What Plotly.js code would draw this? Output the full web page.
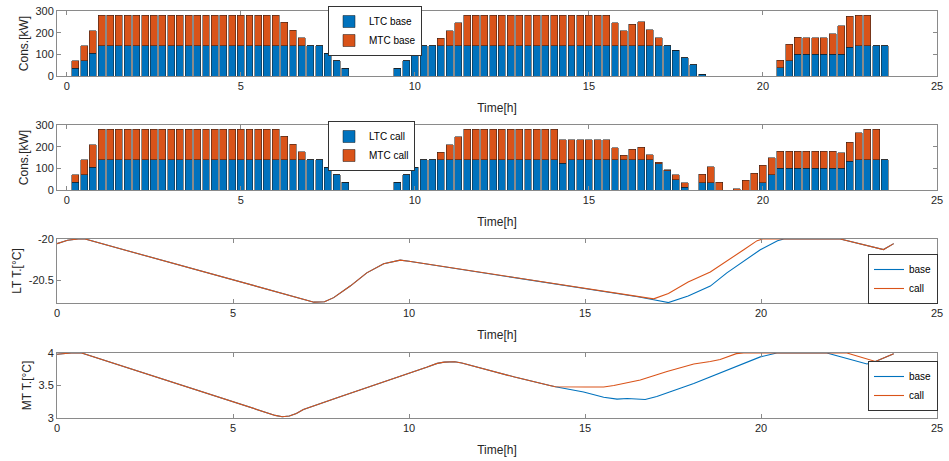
<!DOCTYPE html>
<html>
<head>
<meta charset="utf-8">
<script src="https://cdn.plot.ly/plotly-3.0.1.min.js"></script>
<style>html,body{margin:0;padding:0;background:#fff;}#chart{width:949px;height:461px;}</style>
</head>
<body>
<div id="chart"></div>
<script>
// ---- bar data (quarter-hour steps) ----
const times = [0.25,0.5,0.75,1,1.25,1.5,1.75,2,2.25,2.5,2.75,3,3.25,3.5,3.75,4,4.25,4.5,4.75,5,
  5.25,5.5,5.75,6,6.25,6.5,6.75,7,7.25,7.5,7.75,8,8.25,8.5,8.75,9,9.25,9.5,9.75,10,
  10.25,10.5,10.75,11,11.25,11.5,11.75,12,12.25,12.5,12.75,13,13.25,13.5,13.75,14,14.25,14.5,14.75,15,
  15.25,15.5,15.75,16,16.25,16.5,16.75,17,17.25,17.5,17.75,18,18.25,18.5,18.75,19,19.25,19.5,19.75,20,
  20.25,20.5,20.75,21,21.25,21.5,21.75,22,22.25,22.5,22.75,23,23.25,23.5];

const baseLTC = [35,70,105,140,140,140,140,140,140,140,140,140,140,140,140,140,140,140,140,140,
  140,140,140,140,140,140,140,140,140,105,70,35,0,0,0,0,0,35,70,105,
  140,140,140,140,140,140,140,140,140,140,140,140,140,140,140,140,140,140,140,140,
  140,140,140,140,140,140,140,140,140,119,85,52,9,0,0,0,0,0,0,0,
  0,37,71,100,100,100,100,100,100,132,140,140,140,140];
const baseMTC = [35,70,105,140,140,140,140,140,140,140,140,140,140,140,140,140,140,140,140,140,
  140,140,140,140,108,72,37,0,0,0,0,0,0,0,0,0,0,0,0,0,
  0,0,35,70,105,140,140,140,140,140,140,140,140,140,140,140,140,140,140,140,
  140,140,106,70,99,111,73,37,0,0,0,0,0,0,0,0,0,0,0,0,
  0,35,75,80,77,77,77,95,131,144,140,140,0,0];
const callLTC = [35,70,105,140,140,140,140,140,140,140,140,140,140,140,140,140,140,140,140,140,
  140,140,140,140,140,140,140,140,140,105,70,35,0,0,0,0,0,35,70,105,
  140,140,140,140,140,140,140,140,140,140,140,140,140,140,140,140,123,140,140,140,
  140,140,140,140,140,140,140,121,89,47,12,0,34,34,0,0,0,0,0,34,
  71,101,100,100,100,100,100,100,100,132,140,140,140,140];
const callMTC = [35,70,105,140,140,140,140,140,140,140,140,140,140,140,140,140,140,140,140,140,
  140,140,140,140,108,72,37,0,0,0,0,0,0,0,0,0,0,0,0,0,
  0,0,35,70,105,140,140,140,140,140,140,140,140,140,140,140,108,91,91,91,
  91,91,55,20,49,57,23,7,4,23,22,0,39,73,36,0,6,44,78,80,
  77,78,78,78,78,78,78,78,73,89,124,140,140,0];

// ---- LT temperature ----
const ltBaseT = [0,0.3,0.6,0.8,2,3,4,5,6,6.8,7.3,7.6,7.86,8.33,8.8,9.28,9.75,10,11,12,13,14,15,16,16.5,16.95,17.37,17.93,18.56,19.03,19.51,19.98,20.47,20.65,22.25,23.48,23.77];
const ltBase  = [-20.056,-20.015,-20,-20,-20.142,-20.26,-20.38,-20.5,-20.62,-20.71,-20.765,-20.76,-20.71,-20.57,-20.41,-20.3,-20.256,-20.27,-20.335,-20.4,-20.465,-20.53,-20.6,-20.665,-20.7,-20.735,-20.77,-20.69,-20.57,-20.41,-20.27,-20.13,-20.02,-20,-20,-20.128,-20.056];
const ltCallT = [0,0.3,0.6,0.8,2,3,4,5,6,6.8,7.3,7.6,7.86,8.33,8.8,9.28,9.75,10,11,12,13,14,15,16,16.5,16.95,17.37,17.93,18.56,19.03,19.51,19.89,20.05,22.25,23.48,23.77];
const ltCall  = [-20.056,-20.015,-20,-20,-20.142,-20.26,-20.38,-20.5,-20.62,-20.71,-20.765,-20.76,-20.71,-20.57,-20.41,-20.3,-20.256,-20.27,-20.335,-20.4,-20.465,-20.53,-20.6,-20.665,-20.7,-20.725,-20.66,-20.52,-20.4,-20.27,-20.13,-20.02,-20,-20,-20.128,-20.056];

// ---- MT temperature ----
const mtBaseT = [0,0.4,0.7,1,2,3,4,5,6,6.2,6.4,6.6,6.8,7,8,9,10,10.5,10.8,11,11.3,11.5,12,13,14,14.16,14.96,15.53,15.91,16.2,16.71,17.04,18.09,19.03,19.98,20.45,21.87,23.01,23.25,23.77];
const mtBase  = [3.98,4,4,3.948,3.773,3.599,3.424,3.25,3.075,3.04,3.02,3.03,3.07,3.13,3.32,3.51,3.69,3.78,3.84,3.86,3.865,3.845,3.77,3.63,3.5,3.48,3.4,3.32,3.29,3.3,3.285,3.33,3.53,3.74,3.94,4,4,3.83,3.87,3.99];
const mtCallT = [0,0.4,0.7,1,2,3,4,5,6,6.2,6.4,6.6,6.8,7,8,9,10,10.5,10.8,11,11.3,11.5,12,13,14,14.16,15,15.53,15.82,16.2,16.57,17.33,18.09,18.56,18.84,19.3,19.51,22.44,23.25,23.77];
const mtCall  = [3.98,4,4,3.948,3.773,3.599,3.424,3.25,3.075,3.04,3.02,3.03,3.07,3.13,3.32,3.51,3.69,3.78,3.84,3.86,3.865,3.845,3.77,3.63,3.5,3.48,3.478,3.478,3.5,3.54,3.585,3.715,3.83,3.87,3.9,3.99,4,4,3.87,3.99];

// ---- labels / ticks ----
const xTicks = [0,5,10,15,20,25];
const consTicks = [0,100,200,300];
const ltTicks = [-20.5,-20];
const ltTickText = ['-20.5','-20'];
const mtTicks = [3,3.5,4];
const mtTickText = ['3','3.5','4'];
const xTitle = 'Time[h]';

const BLUE = '#0072BD', ORANGE = '#D95319';
const W = 949, H = 461;
const xDom = [57/W, 937/W];
function yDom(top, bottom){ return [1-bottom/H, 1-top/H]; }

const edge = {color:'rgba(25,25,25,0.85)', width:0.6};
const traces = [
  {type:'bar', x:times, y:baseLTC, name:'LTC base', width:0.2, marker:{color:BLUE, line:edge}, xaxis:'x', yaxis:'y', legend:'legend'},
  {type:'bar', x:times, y:baseMTC, name:'MTC base', width:0.2, marker:{color:ORANGE, line:edge}, xaxis:'x', yaxis:'y', legend:'legend'},
  {type:'bar', x:times, y:callLTC, name:'LTC call', width:0.2, marker:{color:BLUE, line:edge}, xaxis:'x2', yaxis:'y2', legend:'legend2'},
  {type:'bar', x:times, y:callMTC, name:'MTC call', width:0.2, marker:{color:ORANGE, line:edge}, xaxis:'x2', yaxis:'y2', legend:'legend2'},
  {type:'scatter', mode:'lines', x:ltBaseT, y:ltBase, name:'base', line:{color:BLUE, width:1.1}, xaxis:'x3', yaxis:'y3', legend:'legend3'},
  {type:'scatter', mode:'lines', x:ltCallT, y:ltCall, name:'call', line:{color:ORANGE, width:1.1}, xaxis:'x3', yaxis:'y3', legend:'legend3'},
  {type:'scatter', mode:'lines', x:mtBaseT, y:mtBase, name:'base', line:{color:BLUE, width:1.1}, xaxis:'x4', yaxis:'y4', legend:'legend4'},
  {type:'scatter', mode:'lines', x:mtCallT, y:mtCall, name:'call', line:{color:ORANGE, width:1.1}, xaxis:'x4', yaxis:'y4', legend:'legend4'}
];

const FONT = 'Liberation Sans, Arial, sans-serif';
const TXT = '#262626';
function xa(anchor, range){
  return {domain:xDom, anchor:anchor, range:range, tickvals:xTicks, ticks:'inside', ticklen:4, tickcolor:'#8a8a8a',
    showline:true, linecolor:'#8a8a8a', linewidth:1, mirror:'ticks', showgrid:false, zeroline:false,
    tickfont:{size:11, color:TXT}, automargin:false,
    title:{text:xTitle, font:{size:12, color:TXT}, standoff:12}};
}
function ya(anchor, dom, range, tv, tt, title){
  const o = {domain:dom, anchor:anchor, range:range, tickvals:tv, ticks:'inside', ticklen:4, tickcolor:'#8a8a8a',
    showline:true, linecolor:'#8a8a8a', linewidth:1, mirror:'ticks', showgrid:false, zeroline:false,
    tickfont:{size:11, color:TXT}, automargin:false,
    title:{text:title, font:{size:12, color:TXT}, standoff:4}};
  if (tt) o.ticktext = tt;
  return o;
}
function leg(x, y, anchor){
  return {x:x/W, y:1-y/H, xanchor:'left', yanchor:anchor, bgcolor:'#fff', bordercolor:'#333', borderwidth:1,
    font:{size:10, color:'#000', family:FONT}, tracegroupgap:0, itemwidth:30, traceorder:'normal'};
}

const layout = {
  width:W, height:H, margin:{l:0, r:0, t:0, b:0},
  paper_bgcolor:'#fff', plot_bgcolor:'#fff',
  font:{family:FONT, color:TXT},
  barmode:'stack', bargap:0, showlegend:true,
  xaxis:xa('y', [-0.28, 25]),
  yaxis:ya('x', yDom(11,76), [0,300], consTicks, null, 'Cons.[kW]'),
  xaxis2:xa('y2', [-0.28, 25]),
  yaxis2:ya('x2', yDom(125,190), [0,300], consTicks, null, 'Cons.[kW]'),
  xaxis3:xa('y3', [0, 25]),
  yaxis3:ya('x3', yDom(239,303), [-20.775,-20], ltTicks, ltTickText, 'LT T.[°C]'),
  xaxis4:xa('y4', [0, 25]),
  yaxis4:ya('x4', yDom(353,418), [3,4], mtTicks, mtTickText, 'MT T.[°C]'),
  legend:leg(328,31,'middle'),
  legend2:leg(328,146,'middle'),
  legend3:leg(868,304,'bottom'),
  legend4:leg(868,411,'bottom')
};

Plotly.newPlot('chart', traces, layout, {staticPlot:true, displayModeBar:false});
</script>
</body>
</html>
